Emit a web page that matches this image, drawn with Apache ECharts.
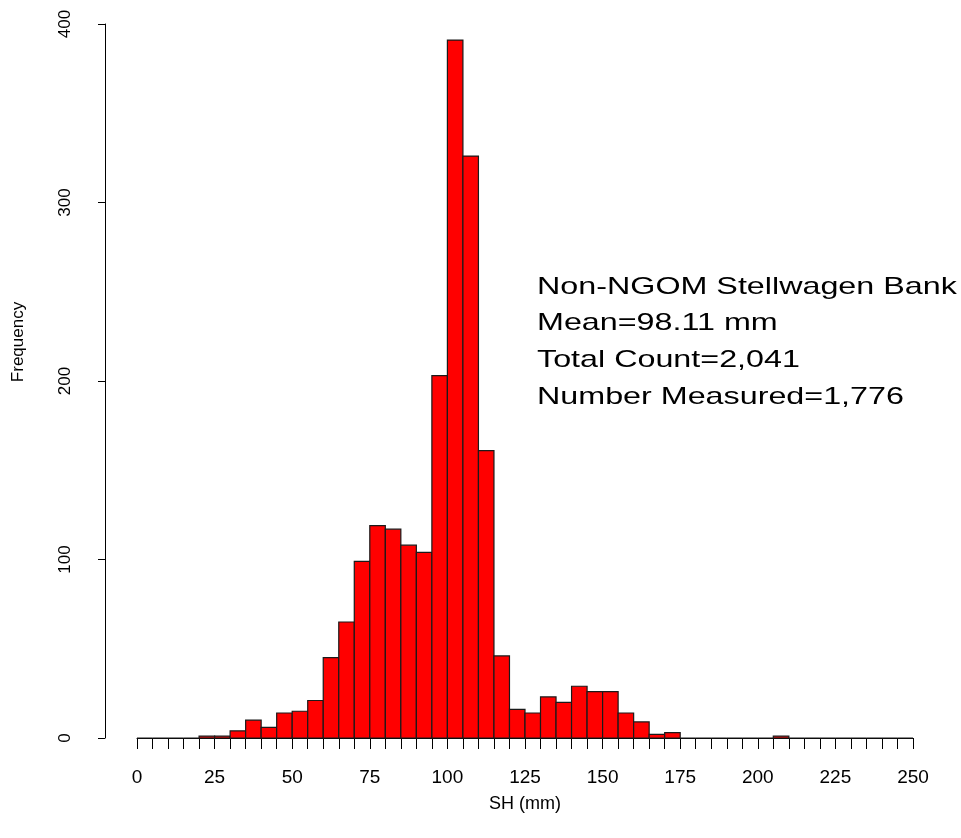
<!DOCTYPE html>
<html>
<head>
<meta charset="utf-8">
<script src="https://cdn.jsdelivr.net/npm/echarts@6/dist/echarts.min.js"></script>
<style>
html,body{margin:0;padding:0;background:#fff;}
#chart{width:961px;height:838px;}
</style>
</head>
<body>
<div id="chart"></div>
<script>
// Histogram bins (SH, mm): start and end of each 5 mm bin
const binStart = [0,5,10,15,20,25,30,35,40,45,50,55,60,65,70,75,80,85,90,95,100,105,110,115,120,125,130,135,140,145,150,155,160,165,170,175,180,185,190,195,200,205,210,215,220,225,230,235,240,245];
const binEnd   = [5,10,15,20,25,30,35,40,45,50,55,60,65,70,75,80,85,90,95,100,105,110,115,120,125,130,135,140,145,150,155,160,165,170,175,180,185,190,195,200,205,210,215,220,225,230,235,240,245,250];
const counts   = [0,0,0,0,1,1,4,10,6,14,15,21,45,65,99,119,117,108,104,203,391,326,161,46,16,14,23,20,29,26,26,14,9,2,3,0,0,0,0,0,0,1,0,0,0,0,0,0,0,0];
const xTickLabels = [0,25,50,75,100,125,150,175,200,225,250];
const yTickLabels = [0,100,200,300,400];
const annotation = ['Non-NGOM Stellwagen Bank','Mean=98.11 mm','Total Count=2,041','Number Measured=1,776'];

const data = binStart.map((s,i)=>[s, binEnd[i], counts[i]]);
const FONT = "'Liberation Sans', Arial, Helvetica, sans-serif";

const chart = echarts.init(document.getElementById('chart'));
chart.setOption({
  backgroundColor:'#ffffff',
  animation:false,
  grid:[
    {left:137,right:48,top:24,bottom:100,outerBoundsMode:'none',containLabel:false},
    {left:105,width:1,top:24,bottom:100,outerBoundsMode:'none',containLabel:false}
  ],
  xAxis:[{
    gridIndex:0,
    type:'value', min:0, max:250, interval:5,
    name:'SH (mm)', nameLocation:'middle', nameGap:57,
    nameTextStyle:{fontFamily:FONT,fontSize:18,color:'#000'},
    axisLine:{show:true,onZero:false,lineStyle:{color:'#000',width:1}},
    axisTick:{show:true,length:11,lineStyle:{color:'#000',width:1}},
    splitLine:{show:false},
    axisLabel:{
      margin:30, color:'#000', fontFamily:FONT, fontSize:19,
      formatter:v=> xTickLabels.indexOf(v)>=0 ? String(v) : ''
    }
  },{
    gridIndex:1, type:'value', min:0, max:1, show:false
  }],
  yAxis:[{
    gridIndex:0, type:'value', min:0, max:400, interval:100, show:false
  },{
    gridIndex:1,
    type:'value', min:0, max:400, interval:100,
    axisLine:{show:true,onZero:false,lineStyle:{color:'#000',width:1}},
    axisTick:{show:true,length:7,lineStyle:{color:'#000',width:1}},
    splitLine:{show:false},
    axisLabel:{
      rotate:90, margin:31, color:'#000', fontFamily:FONT, fontSize:17,
      formatter:v=> yTickLabels.indexOf(v)>=0 ? String(v) : ''
    }
  }],
  series:[{
    type:'custom',
    xAxisIndex:0, yAxisIndex:0,
    data:data,
    encode:{x:[0,1],y:2},
    clip:false,
    renderItem:(params,api)=>{
      const x0=api.value(0), x1=api.value(1), y=api.value(2);
      const p0=api.coord([x0,y]);
      const p1=api.coord([x1,0]);
      return {
        type:'rect',
        shape:{x:p0[0],y:p0[1],width:p1[0]-p0[0],height:p1[1]-p0[1]},
        style:{fill:'#ff0000',stroke:'#1a1a1a',lineWidth:1.2}
      };
    }
  }],
  graphic:[
    {
      type:'text', x:18, y:342, rotation:Math.PI/2,
      style:{text:'Frequency', fill:'#000', font:"17px "+FONT, align:'center', verticalAlign:'middle'}
    }
  ].concat(annotation.map((t,i)=>({
    type:'text', x:537, y:287+i*36.7, scaleX:1.345,
    style:{text:t, fill:'#000', font:"24px "+FONT, align:'left', verticalAlign:'middle'}
  })))
});
</script>
</body>
</html>
